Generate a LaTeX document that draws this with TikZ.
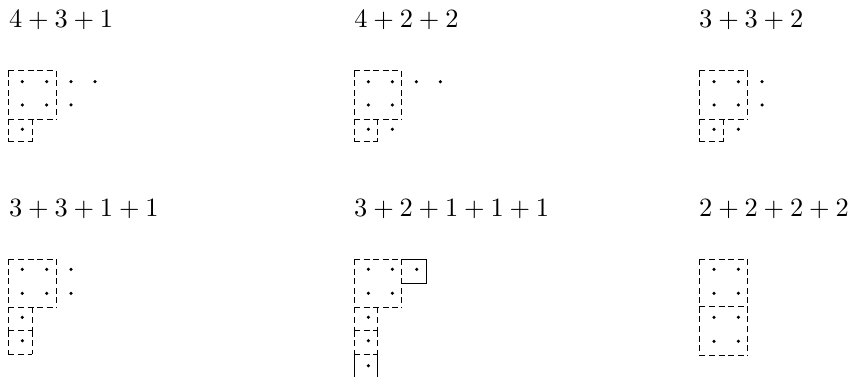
\documentclass[tikz,border=0pt]{standalone}
\usepackage{graphicx}
\newcommand{\sumtxt}[1]{\scalebox{2.64}{$#1$}}
% closed dashed box: four edges, each starting at a corner
\newcommand{\dbx}[4]{%
  \draw[dbox] (#1,#2) -- (#3,#2);
  \draw[dbox] (#1,#2) -- (#1,#4);
  \draw[dbox] (#3,#2) -- (#3,#4);
  \draw[dbox] (#1,#4) -- (#3,#4);}
% dashed box whose top edge is shared with the box above
\newcommand{\dbu}[4]{%
  \draw[dbox] (#1,#2) -- (#1,#4);
  \draw[dbox] (#3,#2) -- (#3,#4);
  \draw[dbox] (#1,#4) -- (#3,#4);}
\newcommand{\pd}[2]{\fill[pdot] (#1,#2) circle[radius=1.75pt];}
\begin{document}
\begin{tikzpicture}[x=1pt,y=-1pt,
  dbox/.style={draw=black,line width=0.95pt,dash pattern=on 6pt off 3.6pt},
  sline/.style={draw=black,line width=0.9pt},
  pdot/.style={fill=black},
  title/.style={anchor=base west,inner sep=0pt}]
\useasboundingbox (0,0) rectangle (849,377);
% titles
\node[title] (t1) at (8.9,27.3) {\sumtxt{4+3+1}};
\node[title] (t2) at (354.2,27.3) {\sumtxt{4+2+2}};
\node[title] (t3) at (699,27.3) {\sumtxt{3+3+2}};
\node[title] (t4) at (8.9,216.7) {\sumtxt{3+3+1+1}};
\node[title] (t5) at (354,216.7) {\sumtxt{3+2+1+1+1}};
\node[title] (t6) at (699,216.7) {\sumtxt{2+2+2+2}};
% D1
\dbx{8.3}{70.7}{56}{119}
\dbu{8.3}{119}{32.3}{141.7}
\foreach \x in {22.3,46.7,71,95} {\pd{\x}{81.7}}
\foreach \x in {22.3,46.7,71} {\pd{\x}{105}}
\pd{22.3}{129.3}
% D2
\dbx{354}{70.7}{401.7}{119}
\dbu{354}{119}{377.7}{141.7}
\foreach \x in {368.3,392.3,416.3,440.3} {\pd{\x}{81.7}}
\foreach \x in {368.3,392.3} {\pd{\x}{105}\pd{\x}{129.3}}
% D3
\dbx{699.3}{70.7}{747.7}{119}
\dbu{699.3}{119}{723.3}{141.7}
\foreach \x in {714,738.3,762} {\pd{\x}{81.7}\pd{\x}{105}}
\foreach \x in {714,738.3} {\pd{\x}{129.3}}
% D4
\dbx{8.3}{259}{56}{307.3}
\dbu{8.3}{307.3}{32.3}{330.7}
\dbu{8.3}{330.7}{32.3}{354.3}
\foreach \x in {22.3,46.7,71} {\pd{\x}{269.3}\pd{\x}{293.3}}
\pd{22.3}{317.3}
\pd{22.3}{340.7}
% D5
\dbx{354}{259}{401.7}{307.3}
\draw[sline] (401.7,259) -- (426,259) -- (426,283.3) -- (401.7,283.3);
\dbu{354}{307.3}{377.7}{330.7}
\dbu{354}{330.7}{377.7}{354.3}
\draw[sline] (354,354.3) -- (354,376.5);
\draw[sline] (377.7,354.3) -- (377.7,376.5);
\foreach \x in {368.3,392.3,416.7} {\pd{\x}{269.3}}
\foreach \x in {368.3,392.3} {\pd{\x}{293.3}}
\foreach \y in {317.3,340.7,365.7} {\pd{368.3}{\y}}
% D6
\dbx{699.3}{259}{747.7}{306.7}
\dbu{699.3}{306.7}{747.7}{355}
\foreach \x in {714,738.3} {\foreach \y in {269.3,293.3,317.3,341.3} {\pd{\x}{\y}}}
\end{tikzpicture}
\end{document}
